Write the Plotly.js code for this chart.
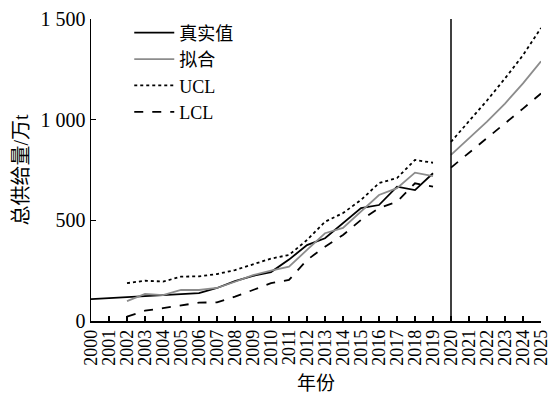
<!DOCTYPE html>
<html>
<head>
<meta charset="utf-8">
<script src="https://cdn.plot.ly/plotly-3.0.1.min.js"></script>
<style>html,body{margin:0;padding:0;background:#fff;}#chart{width:551px;height:399px;}</style>
</head>
<body>
<div id="chart"></div>
<script>
const years = [2000,2001,2002,2003,2004,2005,2006,2007,2008,2009,2010,2011,2012,2013,2014,2015,2016,2017,2018,2019];
const actual = [109,114,116,122,129,134,138,164,198,224,243,305,377,411,487,561,576,667,650,734];
const fitYears = [2002,2003,2004,2005,2006,2007,2008,2009,2010,2011,2012,2013,2014,2015,2016,2017,2018,2019];
const fit = [99,134,129,154,154,164,195,228,250,270,353,436,462,543,626,660,737,720];
const ucl = [188,200,196,220,222,233,253,283,310,328,402,493,536,601,685,710,800,786];
const lcl = [22,51,64,79,91,93,121,154,188,204,303,369,427,502,561,592,684,667];
const foreYears = [2020,2021,2022,2023,2024,2025];
const fitFore = [825,905,990,1080,1180,1290];
const uclFore = [890,990,1095,1205,1320,1455];
const lclFore = [762,835,905,980,1055,1130];
const yTickVals = [0,500,1000,1500];
const yTickText = ["0","500","1 000","1 500"];
const xTickVals = [2000,2001,2002,2003,2004,2005,2006,2007,2008,2009,2010,2011,2012,2013,2014,2015,2016,2017,2018,2019,2020,2021,2022,2023,2024,2025];

const FONT = "Liberation Serif, Noto Sans CJK SC, serif";
const traces = [
  {x: years, y: actual, name: "真实值", mode: "lines", line: {color: "#000", width: 1.8}},
  {x: fitYears, y: fit, name: "拟合", mode: "lines", line: {color: "#8c8c8c", width: 1.8}},
  {x: fitYears, y: ucl, name: "UCL", mode: "lines", line: {color: "#000", width: 1.8, dash: "dot"}},
  {x: fitYears, y: lcl, name: "LCL", mode: "lines", line: {color: "#000", width: 1.8, dash: "dash"}},
  {x: foreYears, y: fitFore, showlegend: false, mode: "lines", line: {color: "#8c8c8c", width: 1.8}},
  {x: foreYears, y: uclFore, showlegend: false, mode: "lines", line: {color: "#000", width: 1.8, dash: "dot"}},
  {x: foreYears, y: lclFore, showlegend: false, mode: "lines", line: {color: "#000", width: 1.8, dash: "dash"}}
];
const layout = {
  width: 551, height: 399,
  margin: {l: 91, r: 10, t: 19, b: 78},
  paper_bgcolor: "#fff", plot_bgcolor: "#fff",
  font: {family: FONT, size: 18, color: "#000"},
  showlegend: true,
  legend: {x: 0.085, y: 1.015, xanchor: "left", yanchor: "top", bgcolor: "rgba(0,0,0,0)",
           font: {family: FONT, size: 18, color: "#000"}, tracegroupgap: 0, itemwidth: 40},
  xaxis: {
    range: [2000, 2025], tickmode: "array", tickvals: xTickVals, ticktext: xTickVals.map(String),
    tickangle: -90, ticks: "inside", ticklen: 5, tickcolor: "#000", tickwidth: 1.2,
    ticklabeloverflow: "allow",
    showline: true, linecolor: "#000", linewidth: 1.5, showgrid: false, zeroline: false,
    tickfont: {family: FONT, size: 18, color: "#000"},
    title: {text: "年份", font: {family: FONT, size: 19, color: "#000"}, standoff: 12}
  },
  yaxis: {
    range: [0, 1500], tickmode: "array", tickvals: yTickVals, ticktext: yTickText,
    ticks: "inside", ticklen: 5, tickcolor: "#000", tickwidth: 1.2,
    showline: true, linecolor: "#000", linewidth: 1.5, showgrid: false, zeroline: false,
    tickfont: {family: FONT, size: 20, color: "#000"},
    title: {text: "总供给量/万t", font: {family: FONT, size: 20, color: "#000"}, standoff: 6}
  },
  shapes: [{type: "line", xref: "x", yref: "y", x0: 2020, x1: 2020, y0: 0, y1: 1500,
            line: {color: "#000", width: 1.5}}]
};
Plotly.newPlot("chart", traces, layout, {displayModeBar: false, staticPlot: true});
</script>
</body>
</html>
